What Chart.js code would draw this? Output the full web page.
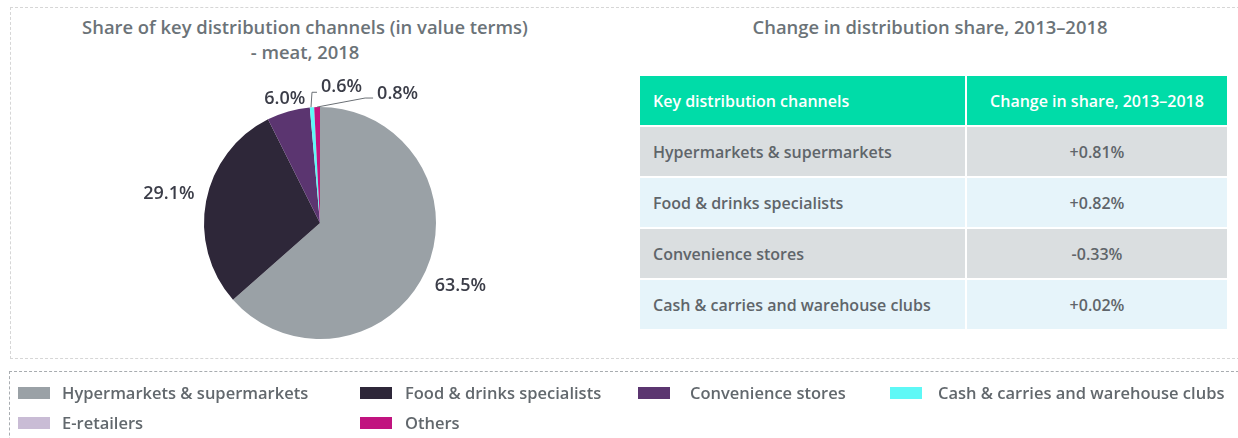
<!DOCTYPE html>
<html>
<head>
<meta charset="utf-8">
<title>Share of key distribution channels - meat, 2018</title>
<script src="https://cdn.jsdelivr.net/npm/chart.js"></script>
<style>
    body {
        margin: 0;
        width: 1238px;
        height: 438px;
        background: #ffffff;
        font-family: "Open Sans", Lato, sans-serif;
        font-weight: 600;
        color: #62686d;
        position: relative;
        overflow: hidden;
    }
    .outer-box {
        position: absolute;
        left: 10px;
        top: 7px;
        width: 1240px;
        height: 352px;
        border: 1px dashed #d6d6d6;
        box-sizing: border-box;
    }
    .legend-box {
        position: absolute;
        left: 9px;
        top: 371px;
        width: 1240px;
        height: 80px;
        border: 1px dashed #a8acb0;
        box-sizing: border-box;
    }
    .title {
        position: absolute;
        text-align: center;
        font-size: 18.4px;
        line-height: 25px;
        color: #6b7378;
    }
    #pieTitle { left: 10px; top: 14px; width: 590px; }
    #tableTitle { left: 630px; top: 14px; width: 600px; }
    .pie-wrap {
        position: absolute;
        left: 120px;
        top: 63px;
        width: 400px;
        height: 320px;
    }
    table {
        position: absolute;
        left: 640px;
        top: 76px;
        width: 591px;
        border-collapse: separate;
        border-spacing: 2px;
        margin: -2px;
        font-size: 16px;
    }
    td, th {
        height: 49px;
        padding: 0 0 0 13px;
        color: #5f656a;
        font-weight: 600;
    }
    th {
        background: #00dca8;
        color: #ffffff;
        text-align: left;
    }
    th.val, td.val { text-align: center; padding: 0; }
    tr.odd td { background: #dadee0; }
    tr.even td { background: #e6f4fa; }
    .legend-item {
        position: absolute;
        font-size: 16.5px;
        color: #62686d;
        white-space: nowrap;
    }
    .swatch {
        position: absolute;
        width: 32px;
        height: 12px;
        top: 6px;
    }
</style>
</head>
<body>
<div class="outer-box"></div>
<div class="title" id="pieTitle">Share of key distribution channels (in value terms)<br>- meat, 2018</div>
<div class="title" id="tableTitle">Change in distribution share, 2013–2018</div>
<div class="pie-wrap"><canvas id="pieChart" width="400" height="320"></canvas></div>
<table id="changeTable"></table>
<div class="legend-box"></div>
<div id="legend"></div>

<script>
// pie data
const channels = ['Hypermarkets & supermarkets', 'Food & drinks specialists', 'Convenience stores',
                  'Cash & carries and warehouse clubs', 'E-retailers', 'Others'];
const shares = [63.5, 29.1, 6.0, 0.6, 0.0, 0.8];
const colors = ['#9aa1a6', '#2e2739', '#5b3570', '#5ef8f6', '#c9bcd5', '#c1137f'];

// table data
const tableHeaders = ['Key distribution channels', 'Change in share, 2013–2018'];
const tableChannels = ['Hypermarkets & supermarkets', 'Food & drinks specialists', 'Convenience stores',
                       'Cash & carries and warehouse clubs'];
const tableChanges = ['+0.81%', '+0.82%', '-0.33%', '+0.02%'];

// build table
const tbl = document.getElementById('changeTable');
let html = '<tr><th>' + tableHeaders[0] + '</th><th class="val">' + tableHeaders[1] + '</th></tr>';
tableChannels.forEach((c, i) => {
    html += '<tr class="' + (i % 2 === 0 ? 'odd' : 'even') + '"><td style="width:312px">' + c.replace('&', '&amp;') +
            '</td><td class="val">' + tableChanges[i] + '</td></tr>';
});
tbl.innerHTML = html;

// legend (left of swatch, top, text offset)
const legendPos = [[18, 381, 44], [360, 381, 45], [638, 381, 52], [890, 381, 48], [18, 411, 44], [360, 411, 45]];
const legendDiv = document.getElementById('legend');
channels.forEach((c, i) => {
    const item = document.createElement('div');
    item.className = 'legend-item';
    item.style.left = legendPos[i][0] + 'px';
    item.style.top = legendPos[i][1] + 'px';
    item.style.paddingLeft = legendPos[i][2] + 'px';
    item.innerHTML = '<span class="swatch" style="left:0;background:' + colors[i] + '"></span>' + c.replace('&', '&amp;');
    legendDiv.appendChild(item);
});

// labels drawn outside the pie, with leader lines for the thin slices
const pieLabels = {
    id: 'pieLabels',
    afterDatasetsDraw(chart) {
        const ctx = chart.ctx;
        const meta = chart.getDatasetMeta(0);
        ctx.save();
        ctx.font = '600 18px "Open Sans", Lato, sans-serif';
        ctx.fillStyle = '#3b3d48';
        ctx.textBaseline = 'middle';
        ctx.strokeStyle = '#6b7075';
        ctx.lineWidth = 1;
        meta.data.forEach((arc, i) => {
            const v = shares[i];
            if (!v) return;
            const mid = (arc.startAngle + arc.endAngle) / 2;
            const txt = v.toFixed(1) + '%';
            const ox = arc.x + arc.outerRadius * Math.cos(mid);
            const oy = arc.y + arc.outerRadius * Math.sin(mid);
            if (v < 1) {
                ctx.textAlign = 'left';
                ctx.beginPath();
                if (i === 3) {
                    ctx.moveTo(ox - 1, oy);
                    ctx.lineTo(ox + 0, oy - 15);
                    ctx.lineTo(ox + 5, oy - 15);
                    ctx.stroke();
                    ctx.fillText(txt, ox + 9, oy - 20);
                } else {
                    ctx.moveTo(ox, oy);
                    ctx.lineTo(ox + 48, oy - 9);
                    ctx.lineTo(ox + 56, oy - 9);
                    ctx.stroke();
                    ctx.fillText(txt, ox + 60, oy - 13);
                }
                return;
            }
            const r = arc.outerRadius + (v < 10 ? 13 : 38);
            ctx.textAlign = 'center';
            ctx.fillText(txt, arc.x + r * Math.cos(mid), arc.y + r * Math.sin(mid));
        });
        ctx.restore();
    }
};

new Chart(document.getElementById('pieChart'), {
    type: 'pie',
    data: {
        labels: channels,
        datasets: [{
            data: shares,
            backgroundColor: colors,
            borderWidth: 0
        }]
    },
    options: {
        responsive: false,
        animation: false,
        layout: { padding: 44 },
        plugins: {
            legend: { display: false },
            tooltip: { enabled: false }
        }
    },
    plugins: [pieLabels]
});
</script>
</body>
</html>
